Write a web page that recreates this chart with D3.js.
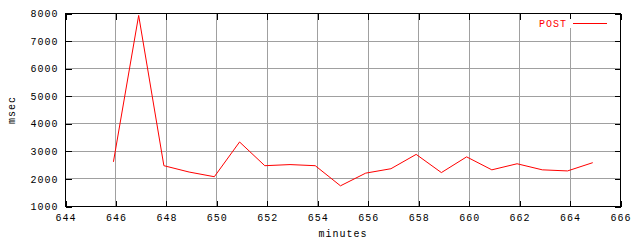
<!DOCTYPE html>
<html>
<head>
<meta charset="utf-8">
<script src="https://cdn.jsdelivr.net/npm/d3@7"></script>
<style>
  body { margin: 0; background: #fff; }
  text { font-family: "Liberation Mono", "DejaVu Sans Mono", monospace; font-size: 10px; letter-spacing: 1px; }
</style>
</head>
<body>
<svg id="chart" width="640" height="240"></svg>
<script>
// datos
const minutes = [645.9, 646.9, 647.9, 648.9, 649.9, 650.9, 651.9, 652.9, 653.9, 654.9,
                 655.9, 656.9, 657.9, 658.9, 659.9, 660.9, 661.9, 662.9, 663.9, 664.9]
const msec = [2620, 7930, 2480, 2250, 2080, 3340, 2480, 2520, 2480, 1750,
              2210, 2370, 2890, 2230, 2800, 2330, 2550, 2330, 2290, 2590]
const xTicks = [644, 646, 648, 650, 652, 654, 656, 658, 660, 662, 664, 666]
const yTicks = [1000, 2000, 3000, 4000, 5000, 6000, 7000, 8000]
const seriesName = 'POST'

const pLeft = 65.5, pRight = 620.5, pTop = 13.5, pBottom = 206.5

const svg = d3.select('#chart')

const x = d3.scaleLinear().domain([644, 666]).range([pLeft, pRight])
const y = d3.scaleLinear().domain([1000, 8000]).range([pBottom, pTop])

// rejilla
const grid = svg.append('g').attr('stroke', '#a0a0a0').attr('shape-rendering', 'crispEdges')
grid.selectAll('.gx').data(xTicks.slice(1, -1)).join('line')
  .attr('x1', d => Math.round(x(d) - 0.5) + 0.5).attr('x2', d => Math.round(x(d) - 0.5) + 0.5)
  .attr('y1', pTop).attr('y2', pBottom)
grid.selectAll('.gy').data(yTicks.slice(1, -1)).join('line')
  .attr('y1', d => Math.round(y(d) - 0.5) + 0.5).attr('y2', d => Math.round(y(d) - 0.5) + 0.5)
  .attr('x1', pLeft).attr('x2', pRight)

// ejes con marcas hacia dentro
function styleAxis(g) {
  g.select('.domain').remove()
  g.selectAll('line').attr('stroke', '#000').attr('shape-rendering', 'crispEdges')
  g.selectAll('text').attr('fill', '#000')
  g.attr('font-family', null).attr('font-size', null)
}
svg.append('g').attr('transform', `translate(0,${pBottom})`)
  .call(d3.axisBottom(x).tickValues(xTicks).tickSize(-6).tickPadding(7).tickFormat(d3.format('d')))
  .call(styleAxis)
svg.append('g').attr('transform', `translate(0,${pTop})`)
  .call(d3.axisTop(x).tickValues(xTicks).tickSize(-6).tickFormat(''))
  .call(styleAxis)
svg.append('g').attr('transform', `translate(${pLeft},0)`)
  .call(d3.axisLeft(y).tickValues(yTicks).tickSize(-6).tickPadding(7).tickFormat(d3.format('d')))
  .call(styleAxis)
svg.append('g').attr('transform', `translate(${pRight},0)`)
  .call(d3.axisRight(y).tickValues(yTicks).tickSize(-6).tickFormat(''))
  .call(styleAxis)

// leyenda
svg.append('rect').attr('x', 534).attr('y', 19).attr('width', 78).attr('height', 9).attr('fill', '#fff')
svg.append('text').attr('x', 567).attr('y', 26.5).attr('text-anchor', 'end').attr('fill', '#f00').text(seriesName)
svg.append('line').attr('x1', 573).attr('x2', 607).attr('y1', 23.5).attr('y2', 23.5)
  .attr('stroke', '#f00').attr('shape-rendering', 'crispEdges')

// serie
const line = d3.line().x((d, i) => x(minutes[i])).y(d => y(d))
svg.append('path').datum(msec).attr('d', line)
  .attr('fill', 'none').attr('stroke', '#f00').attr('stroke-width', 1)

// marco
svg.append('rect').attr('x', pLeft).attr('y', pTop).attr('width', pRight - pLeft).attr('height', pBottom - pTop)
  .attr('fill', 'none').attr('stroke', '#000').attr('shape-rendering', 'crispEdges')

// títulos
svg.append('text').attr('x', (pLeft + pRight) / 2).attr('y', 237).attr('text-anchor', 'middle').text('minutes')
svg.append('text').attr('transform', `translate(15,${(pTop + pBottom) / 2}) rotate(-90)`)
  .attr('text-anchor', 'middle').text('msec')
</script>
</body>
</html>
